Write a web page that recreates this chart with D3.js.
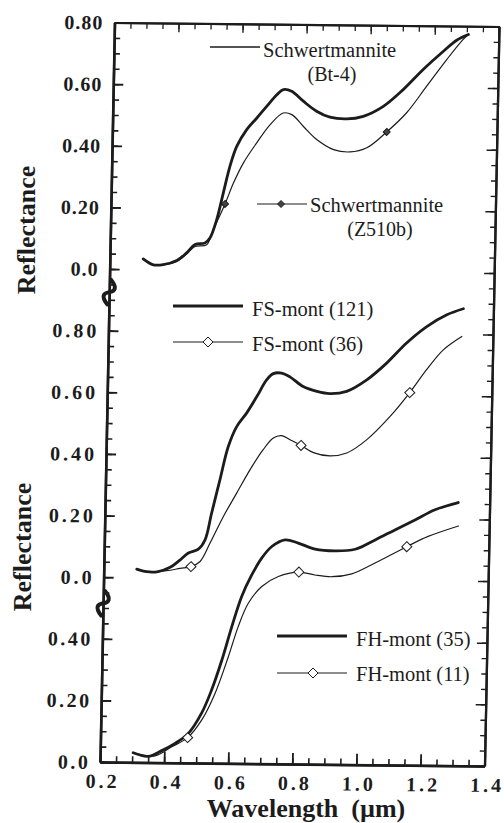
<!DOCTYPE html>
<html>
<head>
<meta charset="utf-8">
<title>Reflectance spectra</title>
<script src="https://cdn.jsdelivr.net/npm/d3@7"></script>
<style>
  body { margin: 0; background: #fff; }
  svg { display: block; }
  text { font-family: 'Liberation Serif', 'Times New Roman', serif; fill: #1c1c1c; }
</style>
</head>
<body>
<div id="chart"></div>
<script>
// data: [wavelength (um), reflectance]
const schwBt4 = [[0.304,0.034],[0.336,0.015],[0.367,0.016],[0.409,0.030],[0.439,0.055],[0.465,0.082],[0.496,0.088],[0.511,0.104],[0.531,0.164],[0.550,0.251],[0.569,0.337],[0.589,0.402],[0.619,0.457],[0.650,0.495],[0.680,0.533],[0.711,0.571],[0.731,0.588],[0.757,0.583],[0.794,0.551],[0.836,0.519],[0.878,0.500],[0.930,0.495],[0.982,0.504],[1.044,0.537],[1.105,0.592],[1.166,0.658],[1.228,0.718],[1.269,0.754],[1.305,0.773]]
const schwZ510b = [[0.304,0.034],[0.336,0.015],[0.367,0.016],[0.409,0.027],[0.439,0.051],[0.465,0.076],[0.501,0.082],[0.521,0.131],[0.556,0.215],[0.581,0.283],[0.611,0.349],[0.651,0.414],[0.692,0.474],[0.732,0.512],[0.759,0.507],[0.796,0.469],[0.838,0.427],[0.891,0.395],[0.943,0.388],[0.995,0.402],[1.056,0.454],[1.117,0.517],[1.178,0.604],[1.239,0.691],[1.289,0.757],[1.305,0.773]]
const fsMont121 = [[0.303,0.027],[0.334,0.019],[0.370,0.020],[0.407,0.034],[0.437,0.058],[0.463,0.081],[0.494,0.094],[0.514,0.124],[0.533,0.211],[0.557,0.320],[0.581,0.428],[0.606,0.493],[0.636,0.537],[0.667,0.591],[0.697,0.646],[0.717,0.666],[0.743,0.668],[0.769,0.656],[0.811,0.625],[0.854,0.610],[0.895,0.603],[0.947,0.611],[1.009,0.649],[1.070,0.704],[1.131,0.770],[1.193,0.824],[1.255,0.863],[1.306,0.883]]
const fsMont36 = [[0.303,0.027],[0.334,0.019],[0.396,0.023],[0.438,0.031],[0.472,0.037],[0.500,0.054],[0.530,0.114],[0.570,0.201],[0.610,0.277],[0.650,0.353],[0.690,0.419],[0.721,0.457],[0.747,0.465],[0.773,0.452],[0.808,0.434],[0.847,0.411],[0.899,0.401],[0.951,0.411],[1.013,0.455],[1.084,0.531],[1.144,0.609],[1.195,0.684],[1.246,0.749],[1.303,0.793]]
const fhMont35 = [[0.303,0.031],[0.350,0.020],[0.392,0.039],[0.433,0.063],[0.474,0.096],[0.514,0.162],[0.544,0.238],[0.574,0.335],[0.603,0.444],[0.632,0.542],[0.662,0.612],[0.692,0.667],[0.723,0.705],[0.764,0.727],[0.805,0.717],[0.858,0.698],[0.920,0.693],[0.983,0.699],[1.045,0.730],[1.106,0.763],[1.168,0.796],[1.230,0.830],[1.302,0.854]]
const fhMont11 = [[0.303,0.031],[0.371,0.022],[0.423,0.052],[0.472,0.082],[0.515,0.140],[0.555,0.227],[0.594,0.346],[0.623,0.444],[0.653,0.520],[0.694,0.575],[0.745,0.608],[0.809,0.623],[0.859,0.614],[0.912,0.609],[0.974,0.619],[1.046,0.655],[1.144,0.709],[1.210,0.743],[1.304,0.778]]

// symbols sit on these points
const z510bMarks = [[0.556,0.215],[1.056,0.454]]
const fs36Marks = [[0.472,0.037],[0.808,0.434],[1.144,0.609]]
const fh11Marks = [[0.472,0.082],[0.809,0.623],[1.144,0.709]]

// the three groups are stacked on one axis
const offsetSchw = 1.6
const offsetFS = 0.6
const offsetFH = 0

const xTicks = [0.2, 0.4, 0.6, 0.8, 1.0, 1.2, 1.4]
const xTickLabels = ['0.2', '0.4', '0.6', '0.8', '1.0', '1.2', '1.4']
const yTicksUpper = [0, 0.2, 0.4, 0.6, 0.8]
const yLabelsUpper = ['0.0', '0.20', '0.40', '0.60', '0.80']
const yTicksLower = [0, 0.2, 0.4]
const yLabelsLower = ['0.0', '0.20', '0.40']
const axisBreaks = [0.515, 1.525]

function draw(){
    const ink = '#1c1c1c'

    let dimensions = {
        width: 504,
        height: 823,
        left: 100,
        right: 484.5,
        top: 22.5,
        bottom: 762
    }

    const svg = d3.select('#chart')
        .append('svg')
        .attr('width', dimensions.width)
        .attr('height', dimensions.height)

    // the original scan is slightly tilted, the plot gets the same slant
    const plot = svg.append('g')
        .attr('transform', 'matrix(1,0.0104,-0.0196,1,14.94,-1.04)')

    // set Scale
    const xScale = d3.scaleLinear()
        .domain([0.2, 1.4])
        .range([dimensions.left, dimensions.right])

    const yScale = d3.scaleLinear()
        .domain([0, 2.4])
        .range([dimensions.bottom, dimensions.top])

    const minorY = d3.range(0, 49).map(i => i * 0.05)
    const majorY = d3.range(0, 13).map(i => i * 0.2)
    const minorX = d3.range(0, 25).map(i => 0.2 + i * 0.05)

    function styleAxis(g, w){
        g.selectAll('path, line').attr('stroke', ink).attr('stroke-width', w)
        g.select('.domain').attr('stroke-width', w + 0.8)
    }

    // left
    plot.append('g').attr('transform', `translate(${dimensions.left},0)`)
        .call(d3.axisRight(yScale).tickValues(minorY).tickSize(6).tickSizeOuter(0).tickFormat(''))
        .call(g => styleAxis(g, 1.6))
    plot.append('g').attr('transform', `translate(${dimensions.left},0)`)
        .call(d3.axisRight(yScale).tickValues(majorY).tickSize(10).tickSizeOuter(0).tickFormat(''))
        .call(g => styleAxis(g, 1.8))
    // right
    plot.append('g').attr('transform', `translate(${dimensions.right},0)`)
        .call(d3.axisLeft(yScale).tickValues(minorY).tickSize(5).tickSizeOuter(0).tickFormat(''))
        .call(g => styleAxis(g, 1.4))
    plot.append('g').attr('transform', `translate(${dimensions.right},0)`)
        .call(d3.axisLeft(yScale).tickValues(majorY).tickSize(10).tickSizeOuter(0).tickFormat(''))
        .call(g => styleAxis(g, 1.5))
    // bottom
    plot.append('g').attr('transform', `translate(0,${dimensions.bottom})`)
        .call(d3.axisTop(xScale).tickValues(minorX).tickSize(6).tickSizeOuter(0).tickFormat(''))
        .call(g => styleAxis(g, 1.6))
    plot.append('g').attr('transform', `translate(0,${dimensions.bottom})`)
        .call(d3.axisTop(xScale).tickValues(xTicks).tickSize(11).tickSizeOuter(0).tickFormat(''))
        .call(g => styleAxis(g, 1.8))
    // top
    plot.append('g').attr('transform', `translate(0,${dimensions.top})`)
        .call(d3.axisBottom(xScale).tickValues(minorX).tickSize(6).tickSizeOuter(0).tickFormat(''))
        .call(g => styleAxis(g, 1.3))
    plot.append('g').attr('transform', `translate(0,${dimensions.top})`)
        .call(d3.axisBottom(xScale).tickValues(xTicks).tickSize(9).tickSizeOuter(0).tickFormat(''))
        .call(g => styleAxis(g, 1.4))

    // y tick labels, one set per stacked group
    const yLabelSets = [
        { offset: offsetSchw, ticks: yTicksUpper, labels: yLabelsUpper, spacing: 1 },
        { offset: offsetFS, ticks: yTicksUpper, labels: yLabelsUpper, spacing: 3 },
        { offset: offsetFH, ticks: yTicksLower, labels: yLabelsLower, spacing: 2.5 }
    ]
    yLabelSets.forEach(set => {
        plot.append('g')
            .selectAll('text')
            .data(set.ticks)
            .join('text')
            .attr('x', dimensions.left - 12 + set.spacing)
            .attr('y', d => yScale(d + set.offset) + 7)
            .attr('text-anchor', 'end')
            .attr('font-size', 20)
            .attr('font-weight', 'bold')
            .attr('letter-spacing', set.spacing)
            .text((d, i) => set.labels[i])
    })

    // x tick labels
    plot.append('g')
        .selectAll('text')
        .data(xTicks)
        .join('text')
        .attr('x', d => xScale(d) + 3)
        .attr('y', dimensions.bottom + 26)
        .attr('text-anchor', 'middle')
        .attr('font-size', 20)
        .attr('font-weight', 'bold')
        .attr('letter-spacing', 3)
        .text((d, i) => xTickLabels[i])

    // axis breaks
    plot.append('g')
        .selectAll('path')
        .data(axisBreaks)
        .join('path')
        .attr('transform', d => `translate(${dimensions.left},${yScale(d)}) rotate(-68)`)
        .attr('d', 'M-12,3 C-7,-6 -3,-5 0,0 C3,5 7,6 12,-3')
        .attr('fill', 'none')
        .attr('stroke', ink)
        .attr('stroke-width', 4)
        .attr('stroke-linecap', 'round')

    // Draw curves
    const series = [
        { data: schwBt4, offset: offsetSchw, width: 2.8 },
        { data: schwZ510b, offset: offsetSchw, width: 1.2, marks: z510bMarks, marker: 'filled' },
        { data: fsMont121, offset: offsetFS, width: 2.8 },
        { data: fsMont36, offset: offsetFS, width: 1.2, marks: fs36Marks, marker: 'open' },
        { data: fhMont35, offset: offsetFH, width: 2.8 },
        { data: fhMont11, offset: offsetFH, width: 1.2, marks: fh11Marks, marker: 'open' }
    ]

    const bigDiamond = 'M0,-5L5,0L0,5L-5,0Z'
    const smallDiamond = 'M0,-3.5L3.5,0L0,3.5L-3.5,0Z'

    series.forEach(s => {
        const line = d3.line()
            .x(d => xScale(d[0]))
            .y(d => yScale(d[1] + s.offset))
            .curve(d3.curveCatmullRom.alpha(0.5))

        plot.append('path')
            .datum(s.data)
            .attr('d', line)
            .attr('fill', 'none')
            .attr('stroke', ink)
            .attr('stroke-width', s.width)
            .attr('stroke-linejoin', 'round')
            .attr('stroke-linecap', 'round')

        if (s.marks) {
            plot.append('g')
                .selectAll('path')
                .data(s.marks)
                .join('path')
                .attr('transform', d => `translate(${xScale(d[0])},${yScale(d[1] + s.offset)})`)
                .attr('d', s.marker == 'open' ? bigDiamond : smallDiamond)
                .attr('fill', s.marker == 'open' ? '#fff' : '#444')
                .attr('stroke', ink)
                .attr('stroke-width', 1)
        }
    })

    // legends (page coordinates)
    const legend = svg.append('g')
    const legendItems = [
        { x1: 210, x2: 260, y: 47, width: 1.6, text: 'Schwertmannite', tx: 263, ty: 57, sub: '(Bt-4)', sx: 332, sy: 81 },
        { x1: 257, x2: 307, y: 204, width: 1.2, marker: 'filled', mx: 281, text: 'Schwertmannite', tx: 310, ty: 212, sub: '(Z510b)', sx: 380, sy: 236 },
        { x1: 173, x2: 243, y: 306, width: 2.8, text: 'FS-mont (121)', tx: 252, ty: 316 },
        { x1: 173, x2: 243, y: 342, width: 1.2, marker: 'open', mx: 208, text: 'FS-mont (36)', tx: 252, ty: 351 },
        { x1: 277, x2: 347, y: 636, width: 2.8, text: 'FH-mont (35)', tx: 356, ty: 646 },
        { x1: 277, x2: 347, y: 673, width: 1.2, marker: 'open', mx: 313, text: 'FH-mont (11)', tx: 356, ty: 681 }
    ]
    legendItems.forEach(d => {
        legend.append('line')
            .attr('x1', d.x1).attr('x2', d.x2)
            .attr('y1', d.y).attr('y2', d.y)
            .attr('stroke', ink)
            .attr('stroke-width', d.width)
        if (d.marker) {
            legend.append('path')
                .attr('transform', `translate(${d.mx},${d.y})`)
                .attr('d', d.marker == 'open' ? bigDiamond : smallDiamond)
                .attr('fill', d.marker == 'open' ? '#fff' : '#444')
                .attr('stroke', ink)
                .attr('stroke-width', 1)
        }
        legend.append('text')
            .attr('x', d.tx).attr('y', d.ty)
            .attr('font-size', 20.5)
            .text(d.text)
        if (d.sub) {
            legend.append('text')
                .attr('x', d.sx).attr('y', d.sy)
                .attr('text-anchor', 'middle')
                .attr('font-size', 20)
                .text(d.sub)
        }
    })

    // axis titles
    svg.append('text')
        .attr('transform', 'translate(35,230) rotate(-90)')
        .attr('text-anchor', 'middle')
        .attr('font-size', 26)
        .attr('font-weight', 'bold')
        .text('Reflectance')
    svg.append('text')
        .attr('transform', 'translate(31,547) rotate(-90)')
        .attr('text-anchor', 'middle')
        .attr('font-size', 26)
        .attr('font-weight', 'bold')
        .text('Reflectance')
    svg.append('text')
        .attr('x', 306)
        .attr('y', 817)
        .attr('text-anchor', 'middle')
        .attr('font-size', 26)
        .attr('font-weight', 'bold')
        .style('white-space', 'pre')
        .text('Wavelength  (\u00b5m)')
}

draw()
</script>
</body>
</html>
